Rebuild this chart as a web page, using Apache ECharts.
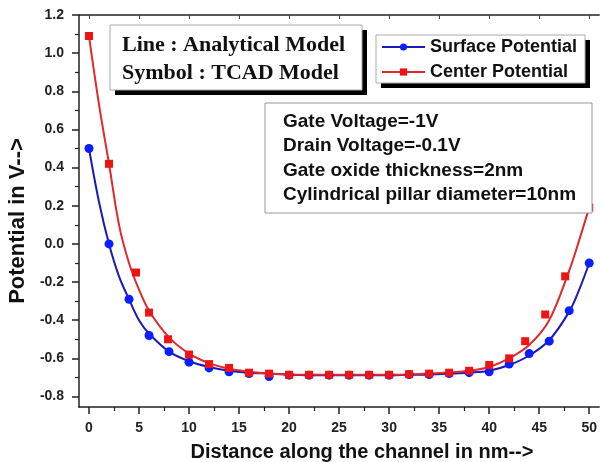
<!DOCTYPE html>
<html>
<head>
<meta charset="utf-8">
<script src="https://cdn.jsdelivr.net/npm/echarts@6/dist/echarts.min.js"></script>
<style>html,body{margin:0;padding:0;background:#fff}#c{width:600px;height:462px}</style>
</head>
<body>
<div id="c"></div>
<script>
// Analytical model (lines)
var lineX = [0, 1, 2, 3, 4, 5, 6, 8, 10, 12, 14, 16, 18, 20, 22, 24, 26, 28, 30, 32, 34, 36, 38, 40, 42, 44, 46, 48, 49, 50];
var surfLine = [0.50, 0.22, 0.00, -0.17, -0.29, -0.40, -0.47, -0.565, -0.615, -0.645, -0.665, -0.675, -0.68, -0.685, -0.688, -0.688, -0.688, -0.688, -0.688, -0.686, -0.684, -0.68, -0.675, -0.665, -0.635, -0.585, -0.505, -0.355, -0.24, -0.10];
var centLine = [1.09, 0.73, 0.42, 0.10, -0.10, -0.24, -0.35, -0.49, -0.575, -0.625, -0.655, -0.67, -0.68, -0.684, -0.686, -0.686, -0.686, -0.686, -0.686, -0.684, -0.68, -0.674, -0.665, -0.645, -0.60, -0.53, -0.40, -0.14, 0.02, 0.19];
// TCAD model (symbols)
var surfX = [0, 2, 4, 6, 8, 10, 12, 14, 16, 18, 20, 22, 24, 26, 28, 30, 32, 34, 36, 38, 40, 42, 44, 46, 48, 50];
var surfTCAD = [0.50, 0.00, -0.29, -0.48, -0.565, -0.62, -0.65, -0.67, -0.68, -0.695, -0.688, -0.688, -0.688, -0.688, -0.688, -0.688, -0.685, -0.685, -0.68, -0.675, -0.67, -0.63, -0.575, -0.51, -0.35, -0.10];
var centX = [0, 2, 4.7, 6, 7.9, 10, 12, 14, 16, 18, 20, 22, 24, 26, 28, 30, 32, 34, 36, 38, 40, 42, 43.6, 45.6, 47.6, 50];
var centTCAD = [1.09, 0.42, -0.15, -0.36, -0.50, -0.58, -0.63, -0.65, -0.675, -0.68, -0.686, -0.686, -0.686, -0.686, -0.686, -0.686, -0.683, -0.68, -0.675, -0.665, -0.635, -0.60, -0.51, -0.37, -0.17, 0.19];
// Ticks
var xTicks = [0, 5, 10, 15, 20, 25, 30, 35, 40, 45, 50];
var xMinor = [2.5, 7.5, 12.5, 17.5, 22.5, 27.5, 32.5, 37.5, 42.5, 47.5];
var yTicks = [-0.8, -0.6, -0.4, -0.2, 0.0, 0.2, 0.4, 0.6, 0.8, 1.0, 1.2];
var yMinor = [-0.7, -0.5, -0.3, -0.1, 0.1, 0.3, 0.5, 0.7, 0.9, 1.1];
var infoLines = ['Gate Voltage=-1V', 'Drain Voltage=-0.1V', 'Gate oxide thickness=2nm', 'Cylindrical pillar diameter=10nm'];
var noteLines = ['Line : Analytical Model', 'Symbol : TCAD Model'];
var xTitle = 'Distance along the channel in nm-->';
var yTitle = 'Potential in V-->';

function zip(a, b) { return a.map(function (v, i) { return [v, b[i]]; }); }

var SANS = 'Liberation Sans, Arial, sans-serif';
var SERIF = 'Liberation Serif, Times New Roman, serif';
var BLUE_L = '#1a1ab4', BLUE_S = '#0a1eff', RED_L = '#dc2a2e', RED_S = '#ee1414';

function shadowBox(x, y, w, h) {
  return [
    { type: 'rect', shape: { x: x + 5, y: y + 5, width: w, height: h }, style: { fill: '#000' }, z: 10 },
    { type: 'rect', shape: { x: x, y: y, width: w, height: h }, style: { fill: '#fff', stroke: '#aaa', lineWidth: 1 }, z: 11 }
  ];
}

var chart = echarts.init(document.getElementById('c'), null, { renderer: 'canvas' });
var graphics = [].concat(shadowBox(110, 25, 252, 65), shadowBox(376, 35, 209, 48));
noteLines.forEach(function (t, i) {
  graphics.push({ type: 'text', x: 122, y: 45 + i * 28, style: { text: t, font: 'bold 22px ' + SERIF, fill: '#111', verticalAlign: 'middle' }, z: 12 });
});
graphics.push({ type: 'rect', shape: { x: 265, y: 103, width: 327, height: 110 }, style: { fill: '#fff', stroke: '#999', lineWidth: 1 }, z: 10 });
infoLines.forEach(function (t, i) {
  graphics.push({ type: 'text', x: 283, y: 122 + i * 24.2, style: { text: t, font: 'bold 19px ' + SANS, fill: '#111', verticalAlign: 'middle' }, z: 12 });
});
graphics.push({ type: 'text', x: 362, y: 452, style: { text: xTitle, font: 'bold 20px ' + SANS, fill: '#111', align: 'center', verticalAlign: 'middle' }, z: 12 });
graphics.push({ type: 'text', x: 18, y: 221, rotation: Math.PI / 2, style: { text: yTitle, font: 'bold 22px ' + SANS, fill: '#111', align: 'center', verticalAlign: 'middle' }, z: 12 });

chart.setOption({
  animation: false,
  backgroundColor: '#fff',
  grid: { left: 79, top: 15, right: -9, bottom: 55 },
  xAxis: [
    {
      type: 'value', min: -1, max: 51, position: 'bottom',
      axisLine: { show: true, onZero: false, lineStyle: { color: '#222', width: 1.5 } },
      axisTick: { show: true, inside: false, length: 7, customValues: xTicks, lineStyle: { color: '#222', width: 1.5 } },
      axisLabel: { show: true, customValues: xTicks, margin: 14, fontFamily: SANS, fontWeight: 'bold', fontSize: 14, color: '#222' },
      splitLine: { show: false }
    },
    {
      type: 'value', min: -1, max: 51, position: 'bottom',
      axisLine: { show: false, onZero: false },
      axisTick: { show: true, inside: false, length: 4, customValues: xMinor, lineStyle: { color: '#222', width: 1.2 } },
      axisLabel: { show: false }, splitLine: { show: false }
    },
    {
      type: 'value', min: -1, max: 51, position: 'top',
      axisLine: { show: true, onZero: false, lineStyle: { color: '#222', width: 1.5 } },
      axisTick: { show: true, inside: true, length: 4, customValues: xTicks, lineStyle: { color: '#444', width: 1 } },
      axisLabel: { show: false }, splitLine: { show: false }
    }
  ],
  yAxis: [
    {
      type: 'value', min: -0.855, max: 1.2, position: 'left',
      axisLine: { show: true, onZero: false, lineStyle: { color: '#222', width: 1.5 } },
      axisTick: { show: true, inside: false, length: 7, customValues: yTicks, lineStyle: { color: '#222', width: 1.5 } },
      axisLabel: { show: true, customValues: yTicks, margin: 15, fontFamily: SANS, fontWeight: 'bold', fontSize: 14, color: '#222',
        formatter: function (v) { return (Math.round(v * 10) / 10).toFixed(1); } },
      splitLine: { show: false }
    },
    {
      type: 'value', min: -0.855, max: 1.2, position: 'left',
      axisLine: { show: false, onZero: false },
      axisTick: { show: true, inside: false, length: 4, customValues: yMinor, lineStyle: { color: '#222', width: 1.2 } },
      axisLabel: { show: false }, splitLine: { show: false }
    }
  ],
  legend: {
    orient: 'vertical', left: 381, top: 37,
    data: ['Surface Potential', 'Center Potential'],
    itemWidth: 43, itemHeight: 9, itemGap: 5,
    padding: 0,
    textStyle: { fontFamily: SANS, fontWeight: 'bold', fontSize: 18, color: '#111', lineHeight: 20 },
    z: 30
  },
  series: [
    { name: 'Surface Potential', type: 'line', data: zip(lineX, surfLine), smooth: 0.35, symbol: 'circle', symbolSize: 8, showSymbol: false,
      lineStyle: { color: BLUE_L, width: 2 }, itemStyle: { color: BLUE_S }, z: 3 },
    { name: 'Center Potential', type: 'line', data: zip(lineX, centLine), smooth: 0.35, symbol: 'rect', symbolSize: 8, showSymbol: false,
      lineStyle: { color: RED_L, width: 2 }, itemStyle: { color: RED_S }, z: 3 },
    { name: 'Surface TCAD', type: 'scatter', data: zip(surfX, surfTCAD), symbol: 'circle', symbolSize: 9, itemStyle: { color: BLUE_S, opacity: 1 }, z: 4 },
    { name: 'Center TCAD', type: 'scatter', data: zip(centX, centTCAD), symbol: 'rect', symbolSize: 8, itemStyle: { color: RED_S, opacity: 1 }, z: 5 }
  ],
  graphic: graphics
});
</script>
</body>
</html>
